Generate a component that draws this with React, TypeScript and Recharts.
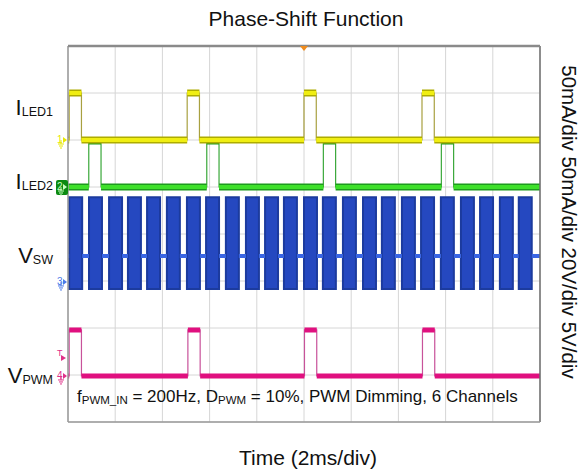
import { ComposedChart, Line, XAxis, YAxis, CartesianGrid, ReferenceArea, ReferenceDot, ReferenceLine } from 'recharts';

// time axis, 2ms/div
const timeTicks = [0, 2, 4, 6, 8, 10, 12, 14, 16, 18, 20];
const divTicks = [0, 1, 2, 3, 4, 5, 6, 7, 8];

// channel setup: mA or V per division, ground marker position (div from bottom)
const chScale = [50, 50, 20, 5];
const chGround = [6, 5, 2.98, 0.98];

// rising edges (ms)
const led1Starts = [0.05, 5.05, 10.0, 15.0];
const led2Starts = [0.88, 5.88, 10.82, 15.82];
const pwmStarts = [0.05, 5.08, 10.02, 15.02];
const pulseWidth = 0.52;

// switching bursts on VSW (ms)
const swStarts = [
  0.05, 0.89, 1.74, 2.54, 3.35, 4.19, 5.04, 5.85, 6.69, 7.54, 8.35, 9.15,
  10.0, 10.8, 11.65, 12.5, 13.3, 14.15, 14.96, 15.8, 16.65, 17.46, 18.3, 19.1,
];
const burstWidth = 0.55;

// levels
const led1Levels = [0, 50]; // mA
const led2Levels = [0, 49]; // mA
const swLevels = [-3, 11, 36]; // V: bottom, idle, top
const pwmLevels = [0, 4.9]; // V
const trigLevel = 1.9; // V

const toDiv = (v: number, ch: number) => chGround[ch] + v / chScale[ch];

type Pt = { t: number; v: number | null };

function stepData(starts: number[], w: number, lo: number, hi: number): Pt[] {
  const pts: Pt[] = [{ t: 0, v: lo }];
  starts.forEach((s) => {
    pts.push({ t: s, v: hi }, { t: s + w, v: lo });
  });
  pts.push({ t: 20, v: lo });
  return pts;
}

function bandData(starts: number[], w: number, lo: number, hi: number | null): Pt[] {
  const pts: Pt[] = [];
  let prev = 0;
  starts.forEach((s) => {
    pts.push({ t: prev, v: lo }, { t: s, v: lo }, { t: s, v: null });
    if (hi !== null) pts.push({ t: s, v: hi }, { t: s + w, v: hi }, { t: s + w, v: null });
    prev = s + w;
  });
  pts.push({ t: prev, v: lo }, { t: 20, v: lo });
  return pts;
}

const d1 = toDiv(led1Levels[0], 0), u1 = toDiv(led1Levels[1], 0);
const d2 = toDiv(led2Levels[0], 1), u2 = toDiv(led2Levels[1], 1);
const d4 = toDiv(pwmLevels[0], 3), u4 = toDiv(pwmLevels[1], 3);

const led1Step = stepData(led1Starts, pulseWidth, d1, u1);
const led1Band = bandData(led1Starts, pulseWidth, d1, u1);
const led2Step = stepData(led2Starts, pulseWidth, d2, u2);
const led2Band = bandData(led2Starts, pulseWidth, d2, u2);
const pwmStep = stepData(pwmStarts, pulseWidth, d4, u4);
const pwmBand = bandData(pwmStarts, pulseWidth, d4, u4);
const swIdle = bandData(swStarts, burstWidth, toDiv(swLevels[1], 2), null);

function GroundMark({ cx, cy, color, label, boxed }: any) {
  const x = cx - 11;
  const c = boxed ? '#c8ffc0' : color;
  return (
    <g>
      {boxed && <rect x={x - 1} y={cy - 7} width={12} height={15} rx={2} fill="#0b8a12" />}
      <text x={x} y={cy + 3} fontSize={10} fill={c} fontFamily="Liberation Sans">{label}</text>
      <path d={`M${x + 6},${cy - 3} L${x + 10},${cy} L${x + 6},${cy + 3} Z`} fill={c} />
      <path d={`M${x + 4},${cy} V${cy + 4} M${x + 1},${cy + 4} H${x + 7} M${x + 2},${cy + 6} H${x + 6} M${x + 3},${cy + 8} H${x + 5}`} stroke={c} strokeWidth={1} fill="none" />
    </g>
  );
}

function TrigMark({ cx, cy }: any) {
  return (
    <g>
      <text x={cx - 11} y={cy - 2} fontSize={9} fill="#e0308a" fontFamily="Liberation Sans">T</text>
      <path d={`M${cx - 7},${cy - 3} L${cx - 2},${cy} L${cx - 7},${cy + 3} Z`} fill="#e0308a" />
    </g>
  );
}

function TopTrig({ cx, cy }: any) {
  return <path d={`M${cx - 4},${cy} L${cx + 4},${cy} L${cx},${cy + 5} Z`} fill="#f08c1e" />;
}

const font = 'Liberation Sans, Arial, sans-serif';

export default function App() {
  return (
    <div style={{ position: 'absolute', left: 0, top: 0, width: 581, height: 471, background: '#fff' }}>
      <ComposedChart width={581} height={471} margin={{ top: 46, right: 41, bottom: 49, left: 68 }}>
        <XAxis type="number" dataKey="t" domain={[0, 20]} ticks={timeTicks} hide allowDataOverflow />
        <YAxis type="number" domain={[0, 8]} ticks={divTicks} hide allowDataOverflow />
        <CartesianGrid stroke="#d6d6d6" strokeWidth={1} />

        {swStarts.map((s, i) => (
          <ReferenceArea key={i} x1={s} x2={s + burstWidth} y1={toDiv(swLevels[0], 2)} y2={toDiv(swLevels[2], 2)}
            fill="#2548c0" fillOpacity={1} stroke="#1c3b9e" strokeWidth={2} />
        ))}
        <Line data={swIdle} dataKey="v" type="linear" stroke="#3a66e4" strokeWidth={4} dot={false} isAnimationActive={false} />

        <Line data={pwmStep} dataKey="v" type="stepAfter" stroke="#c8529a" strokeWidth={1.2} dot={false} isAnimationActive={false} />
        <Line data={pwmBand} dataKey="v" type="linear" stroke="#e0107f" strokeWidth={5} dot={false} isAnimationActive={false} />

        <Line data={led2Step} dataKey="v" type="stepAfter" stroke="#3aa83a" strokeWidth={1.2} dot={false} isAnimationActive={false} />
        <Line data={led2Band} dataKey="v" type="linear" stroke="#1d9a1d" strokeWidth={7} dot={false} isAnimationActive={false} />
        <Line data={led2Band} dataKey="v" type="linear" stroke="#3ee02a" strokeWidth={4} dot={false} isAnimationActive={false} />

        <Line data={led1Step} dataKey="v" type="stepAfter" stroke="#a8a040" strokeWidth={1.2} dot={false} isAnimationActive={false} />
        <Line data={led1Band} dataKey="v" type="linear" stroke="#aeac00" strokeWidth={7} dot={false} isAnimationActive={false} />
        <Line data={led1Band} dataKey="v" type="linear" stroke="#f0ee12" strokeWidth={4} dot={false} isAnimationActive={false} />

        <ReferenceLine x={0} stroke="#9a9a9a" strokeWidth={1.5} />
        <ReferenceLine x={20} stroke="#6e6e6e" strokeWidth={1.5} />
        <ReferenceLine y={0} stroke="#9a9a9a" strokeWidth={1.5} />
        <ReferenceLine y={8} stroke="#8a8a8a" strokeWidth={2.5} />

        <ReferenceDot x={0} y={chGround[0]} r={0} ifOverflow="visible" shape={(p: any) => <GroundMark {...p} color="#e8e800" label="1" />} />
        <ReferenceDot x={0} y={chGround[1]} r={0} ifOverflow="visible" shape={(p: any) => <GroundMark {...p} color="#2a2" label="2" boxed />} />
        <ReferenceDot x={0} y={chGround[2]} r={0} ifOverflow="visible" shape={(p: any) => <GroundMark {...p} color="#4a7ae8" label="3" />} />
        <ReferenceDot x={0} y={chGround[3]} r={0} ifOverflow="visible" shape={(p: any) => <GroundMark {...p} color="#e0308a" label="4" />} />
        <ReferenceDot x={0} y={toDiv(trigLevel, 3)} r={0} ifOverflow="visible" shape={(p: any) => <TrigMark {...p} />} />
        <ReferenceDot x={10} y={8} r={0} ifOverflow="visible" shape={(p: any) => <TopTrig {...p} />} />
      </ComposedChart>

      <svg width={581} height={471} style={{ position: 'absolute', left: 0, top: 0, pointerEvents: 'none' }} fontFamily={font} fill="#111">
        <text x={306} y={26} fontSize={21} textAnchor="middle">Phase-Shift Function</text>
        <text x={308} y={465} fontSize={21} textAnchor="middle">Time (2ms/div)</text>

        <text x={53} y={115} textAnchor="end" fontSize={22}>I<tspan fontSize={12.5} dy={1}>LED1</tspan></text>
        <text x={53} y={189} textAnchor="end" fontSize={22}>I<tspan fontSize={12.5} dy={1}>LED2</tspan></text>
        <text x={53} y={263} textAnchor="end" fontSize={22}>V<tspan fontSize={12.5} dy={1}>SW</tspan></text>
        <text x={53} y={383} textAnchor="end" fontSize={22}>V<tspan fontSize={12.5} dy={1}>PWM</tspan></text>

        <text x={569} y={222} fontSize={20.5} textAnchor="middle" dominantBaseline="central" transform="rotate(90 569 222)">
          50mA/div 50mA/div 20V/div 5V/div
        </text>

        <text x={77} y={402} fontSize={17}>
          f<tspan fontSize={11.5} dy={2}>PWM_IN</tspan><tspan dy={-2}> = 200Hz, D</tspan><tspan fontSize={11.5} dy={2}>PWM</tspan><tspan dy={-2}> = 10%, PWM Dimming, 6 Channels</tspan>
        </text>
      </svg>
    </div>
  );
}
